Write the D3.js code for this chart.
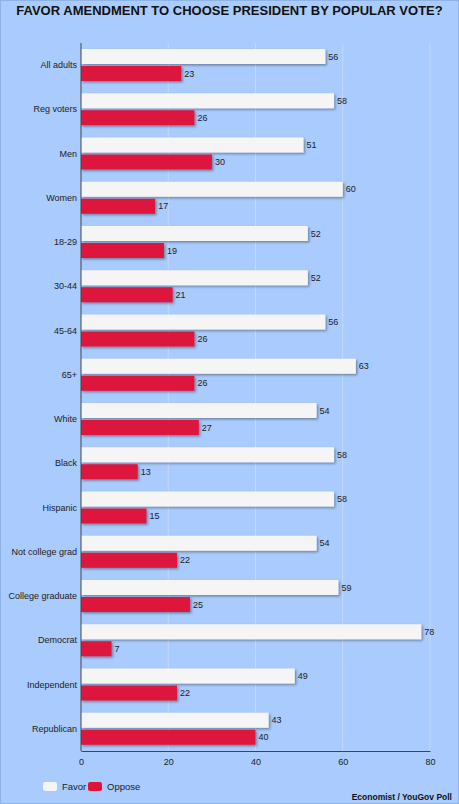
<!DOCTYPE html>
<html><head><meta charset="utf-8">
<script src="https://cdn.jsdelivr.net/npm/d3@7"></script>
<style>
body{margin:0;background:#a9cbfd;}
svg{display:block;font-family:"Liberation Sans",Arial,sans-serif;}
</style></head>
<body>
<svg id="chart" width="459" height="804"></svg>
<script>
// data
var categories = ["All adults","Reg voters","Men","Women","18-29","30-44","45-64","65+","White","Black","Hispanic","Not college grad","College graduate","Democrat","Independent","Republican"];
var favor = [56,58,51,60,52,52,56,63,54,58,58,54,59,78,49,43];
var oppose = [23,26,30,17,19,21,26,26,27,13,15,22,25,7,22,40];
var seriesNames = ["Favor","Oppose"];
var xTicks = [0,20,40,60,80];

var svg = d3.select("#chart");
var mLeft = 81, mRight = 430, mTop = 43, mBottom = 751;

svg.append("rect").attr("x",0.5).attr("y",0.5).attr("width",458).attr("height",803)
  .attr("fill","#a9cbfd").attr("stroke","#8fb3e6");

svg.append("text").attr("x",229.5).attr("y",15).attr("text-anchor","middle")
  .attr("font-size",13).attr("font-weight","bold").attr("fill","#111")
  .text("FAVOR AMENDMENT TO CHOOSE PRESIDENT BY POPULAR VOTE?");

var x = d3.scaleLinear().domain([0,80]).range([mLeft,mRight]);
var y = d3.scaleBand().domain(categories).range([mTop,mBottom]);

var defs = svg.append("defs");
var f = defs.append("filter").attr("id","sh").attr("x","-10%").attr("y","-30%").attr("width","130%").attr("height","180%");
f.append("feDropShadow").attr("dx",1.5).attr("dy",1.5).attr("stdDeviation",1).attr("flood-color","#000").attr("flood-opacity",0.35);

// grid
svg.selectAll(".grid").data(xTicks.slice(1)).enter().append("line")
  .attr("x1",function(d){return x(d);}).attr("x2",function(d){return x(d);})
  .attr("y1",mTop).attr("y2",mBottom).attr("stroke","#c4d9f7").attr("stroke-width",1);

var bh = 15;
var g = svg.selectAll(".grp").data(categories).enter().append("g")
  .attr("transform",function(d){return "translate(0,"+y(d)+")";});

g.append("rect").attr("x",x(0)).attr("y",6).attr("height",bh)
  .attr("width",function(d,i){return x(favor[i])-x(0);})
  .attr("fill","#f5f5f5").attr("filter","url(#sh)");
g.append("rect").attr("x",x(0)).attr("y",23).attr("height",bh)
  .attr("width",function(d,i){return x(oppose[i])-x(0);})
  .attr("fill","#dc143c").attr("filter","url(#sh)");
g.append("text").attr("x",function(d,i){return x(favor[i])+3;}).attr("y",6+bh/2+3)
  .attr("font-size",9).attr("fill","#222").text(function(d,i){return favor[i];});
g.append("text").attr("x",function(d,i){return x(oppose[i])+3;}).attr("y",23+bh/2+3)
  .attr("font-size",9).attr("fill","#222").text(function(d,i){return oppose[i];});
g.append("text").attr("x",mLeft-4).attr("y",25).attr("text-anchor","end")
  .attr("font-size",9).attr("fill","#222").text(function(d){return d;});

// axes
svg.append("line").attr("x1",mLeft).attr("x2",mLeft).attr("y1",mTop).attr("y2",mBottom).attr("stroke","#444");
var xa = svg.append("g").attr("transform","translate(0,"+mBottom+")")
  .call(d3.axisBottom(x).tickValues(xTicks).tickSize(0).tickPadding(8));
xa.select(".domain").attr("stroke","#444");
xa.selectAll("text").attr("font-size",9).attr("fill","#222").attr("font-family","Liberation Sans, Arial, sans-serif");

// legend
var lg = svg.append("g").attr("transform","translate(43,787)");
var colors = ["#f5f5f5","#dc143c"];
var offs = [0,45];
seriesNames.forEach(function(n,i){
  lg.append("rect").attr("x",offs[i]).attr("y",-5).attr("width",14).attr("height",9).attr("rx",2).attr("fill",colors[i]);
  lg.append("text").attr("x",offs[i]+19).attr("y",3).attr("font-size",9.5).attr("fill","#222").text(n);
});

svg.append("text").attr("x",452).attr("y",800).attr("text-anchor","end")
  .attr("font-size",8.5).attr("font-weight","bold").attr("fill","#111").text("Economist / YouGov Poll");
</script>
</body></html>
